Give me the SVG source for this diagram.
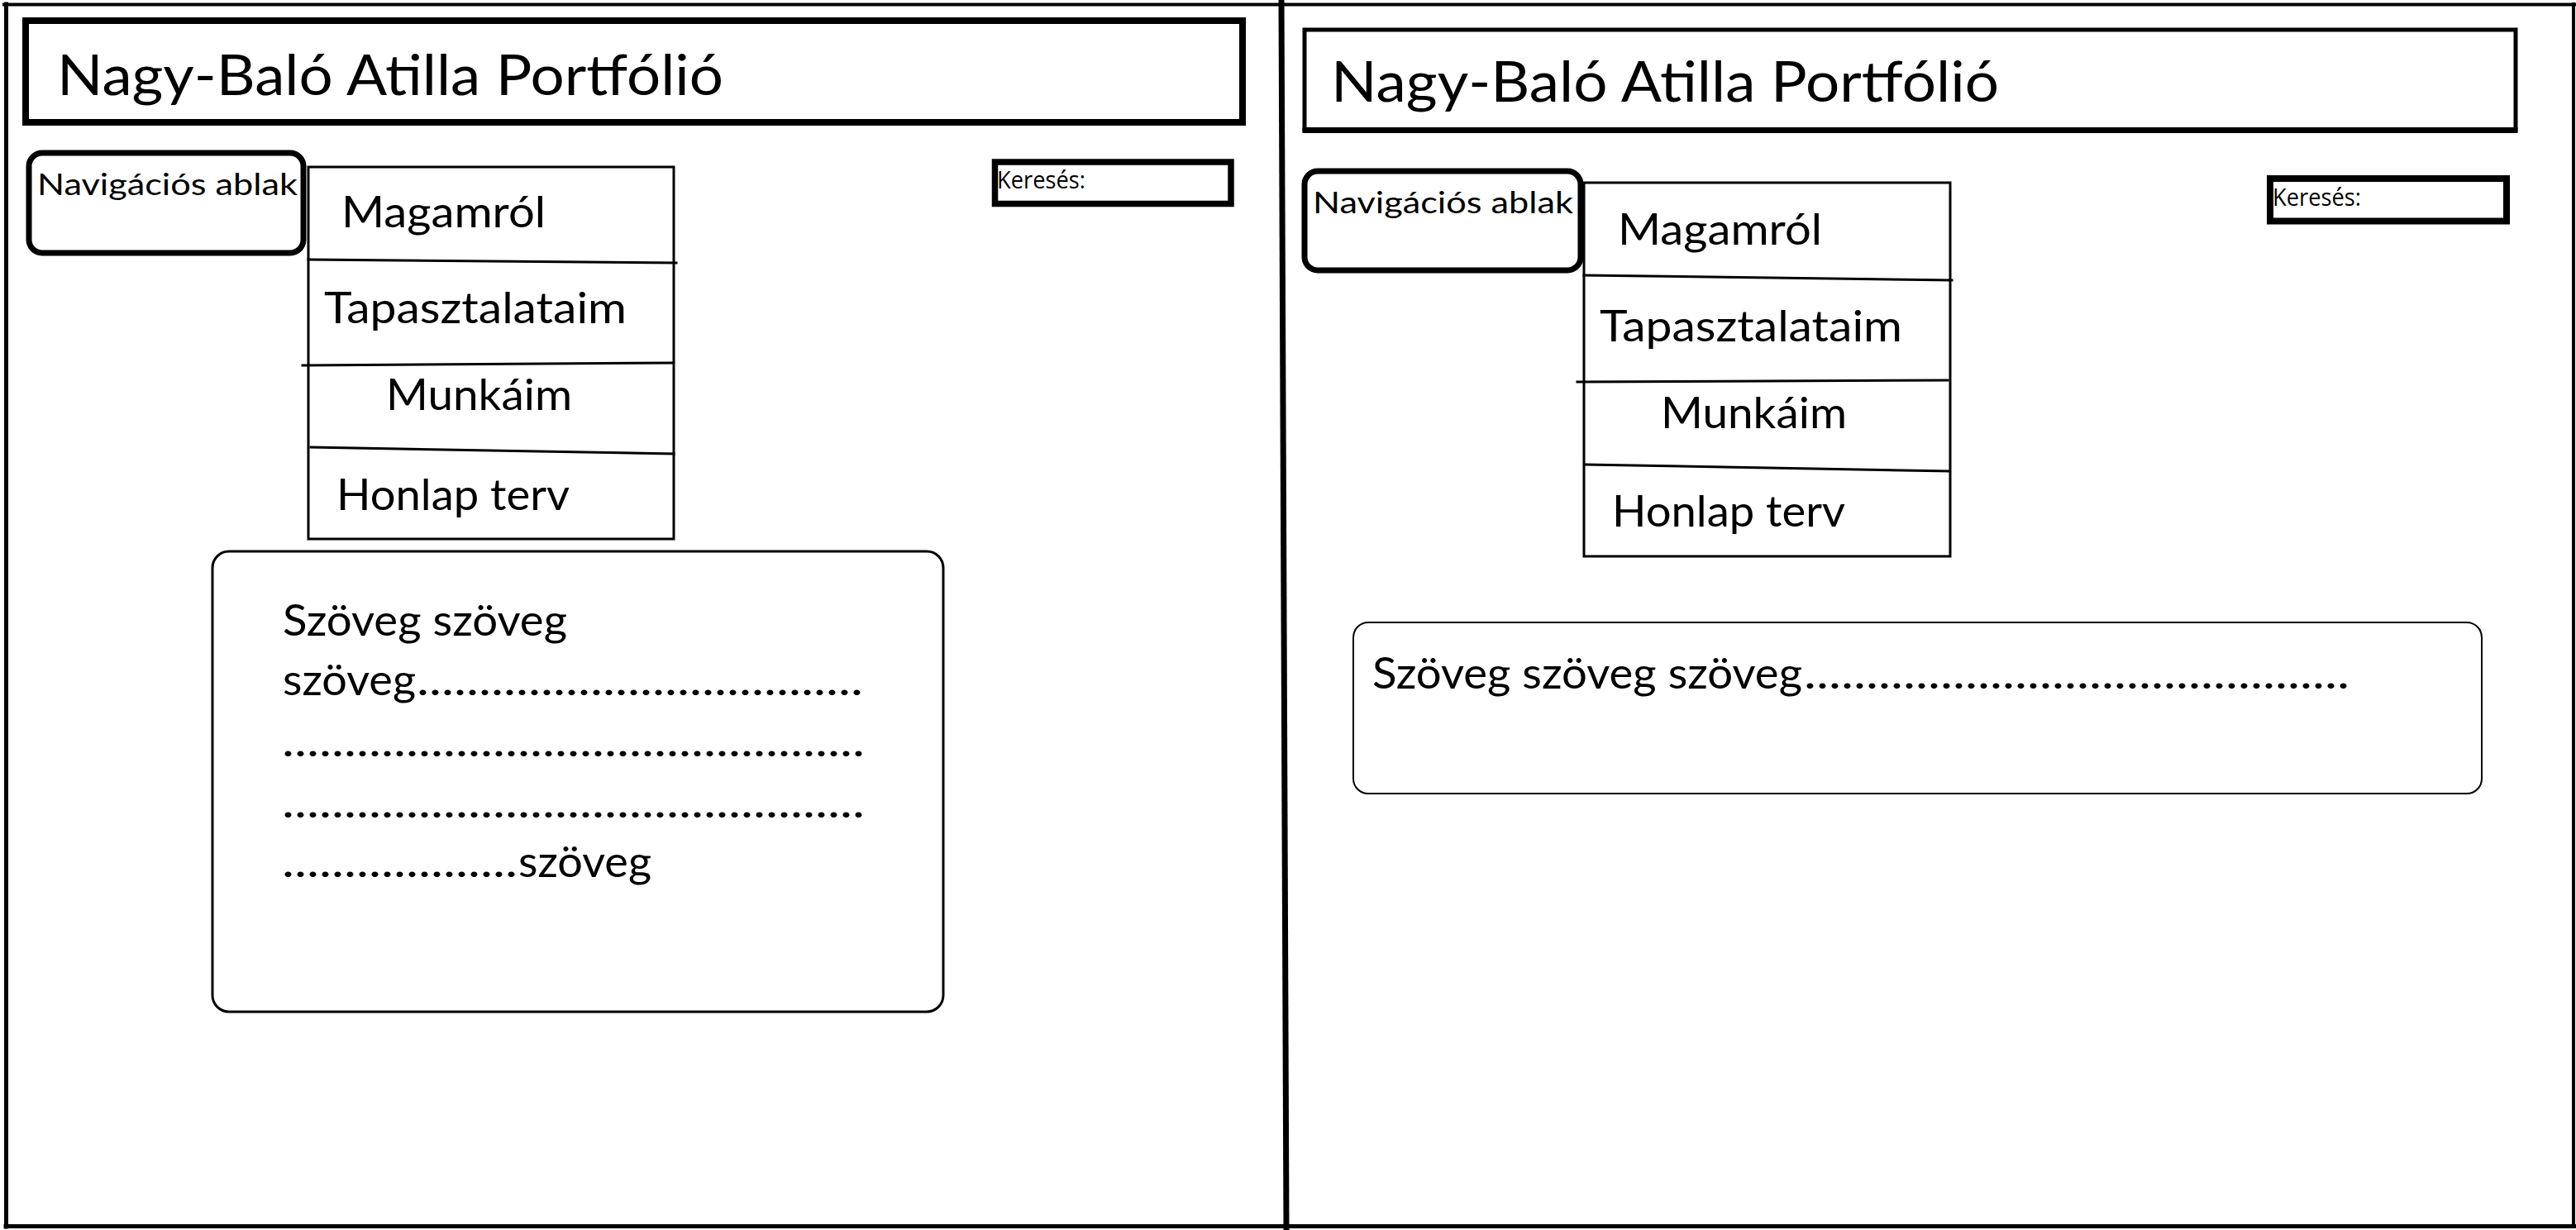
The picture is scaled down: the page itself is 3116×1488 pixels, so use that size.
<svg xmlns="http://www.w3.org/2000/svg" width="3116" height="1488" viewBox="0 0 3116 1488">
<style>
.ln{fill:none;stroke:#000;stroke-linecap:square}
.t{font-family:Lato,"Liberation Sans",sans-serif;fill:#000}
.title{font-size:68px}
.nav{font-size:36px}
.menu{font-size:52px}
.body{font-size:52px}
.ks{font-family:"Open Sans","Noto Sans","Liberation Sans",sans-serif;font-size:30px;fill:#000}
</style>
<rect x="0" y="0" width="3116" height="1488" fill="#fff"/>
<g id="frame">
<line class="ln" x1="5" y1="5.5" x2="3115" y2="5.5" stroke-width="4"/>
<line class="ln" x1="7.5" y1="5" x2="7.5" y2="1484" stroke-width="5"/>
<line class="ln" x1="3113" y1="5" x2="3113" y2="1484" stroke-width="4"/>
<line class="ln" x1="7" y1="1483.5" x2="3114" y2="1483.5" stroke-width="5"/>
<line x1="1550" y1="0" x2="1556" y2="1488" stroke="#000" stroke-width="7"/>
</g>
<g id="left-page">
<g id="left-title">
<rect class="ln" x="31" y="25" width="1472" height="123" stroke-width="8"/>
<text class="t title" x="69" y="115" textLength="806" lengthAdjust="spacingAndGlyphs">Nagy-Baló Atilla Portfólió</text>
</g>
<g id="left-nav">
<rect class="ln" x="35" y="185" width="332" height="121" rx="16" stroke-width="7"/>
<text class="t nav" x="45" y="236" textLength="315" lengthAdjust="spacingAndGlyphs">Navigációs ablak</text>
</g>
<g id="left-search">
<rect class="ln" x="1203.5" y="196" width="285.5" height="50.5" stroke-width="7.5"/>
<text class="ks" x="1206" y="228" textLength="107" lengthAdjust="spacingAndGlyphs">Keresés:</text>
</g>
<g id="left-menu">
<rect class="ln" x="373" y="202" width="442" height="450" stroke-width="3"/>
<line class="ln" x1="373" y1="314" x2="818" y2="318" stroke-width="3"/>
<line class="ln" x1="366" y1="442" x2="813" y2="439" stroke-width="3"/>
<line class="ln" x1="376" y1="541" x2="815" y2="549" stroke-width="3"/>
<text class="t menu" x="413" y="275" textLength="247" lengthAdjust="spacingAndGlyphs">Magamról</text>
<text class="t menu" x="392" y="391" textLength="366" lengthAdjust="spacingAndGlyphs">Tapasztalataim</text>
<text class="t menu" x="467" y="496" textLength="225" lengthAdjust="spacingAndGlyphs">Munkáim</text>
<text class="t menu" x="407" y="617" textLength="282" lengthAdjust="spacingAndGlyphs">Honlap terv</text>
</g>
<g id="left-content">
<rect class="ln" x="257" y="667" width="884" height="557" rx="20" stroke-width="3"/>
<text class="t body" x="342" y="769" textLength="344" lengthAdjust="spacingAndGlyphs">Szöveg szöveg</text>
<text class="t body" x="342" y="841" textLength="161" lengthAdjust="spacingAndGlyphs">szöveg</text>
<text class="t body" x="504" y="841" textLength="540" lengthAdjust="spacingAndGlyphs">....................................</text>
<text class="t body" x="341" y="915" textLength="705" lengthAdjust="spacingAndGlyphs">...............................................</text>
<text class="t body" x="341" y="989" textLength="705" lengthAdjust="spacingAndGlyphs">...............................................</text>
<text class="t body" x="341" y="1061" textLength="285" lengthAdjust="spacingAndGlyphs">...................</text>
<text class="t body" x="627" y="1061" textLength="161" lengthAdjust="spacingAndGlyphs">szöveg</text>
</g>
</g>
<g id="right-page">
<g id="right-title">
<rect class="ln" x="1578" y="36" width="1465" height="121" stroke-width="5"/>
<line x1="1575.5" y1="157.5" x2="3045.5" y2="157.5" stroke="#000" stroke-width="7"/>
<text class="t title" x="1610" y="123" textLength="808" lengthAdjust="spacingAndGlyphs">Nagy-Baló Atilla Portfólió</text>
</g>
<g id="right-nav">
<rect class="ln" x="1578" y="207" width="334" height="120" rx="16" stroke-width="7"/>
<text class="t nav" x="1588" y="258" textLength="315" lengthAdjust="spacingAndGlyphs">Navigációs ablak</text>
</g>
<g id="right-search">
<rect class="ln" x="2746" y="216" width="286" height="51.5" stroke-width="8"/>
<text class="ks" x="2749" y="249" textLength="107" lengthAdjust="spacingAndGlyphs">Keresés:</text>
</g>
<g id="right-menu">
<rect class="ln" x="1916" y="221" width="443" height="452" stroke-width="3"/>
<line class="ln" x1="1916" y1="333" x2="2361" y2="339" stroke-width="3"/>
<line class="ln" x1="1908" y1="462" x2="2356" y2="460" stroke-width="3"/>
<line class="ln" x1="1918" y1="562" x2="2358" y2="570" stroke-width="3"/>
<text class="t menu" x="1957" y="296" textLength="247" lengthAdjust="spacingAndGlyphs">Magamról</text>
<text class="t menu" x="1935" y="413" textLength="366" lengthAdjust="spacingAndGlyphs">Tapasztalataim</text>
<text class="t menu" x="2009" y="518" textLength="225" lengthAdjust="spacingAndGlyphs">Munkáim</text>
<text class="t menu" x="1950" y="637" textLength="282" lengthAdjust="spacingAndGlyphs">Honlap terv</text>
</g>
<g id="right-content">
<rect class="ln" x="1637" y="753" width="1365" height="207" rx="18" stroke-width="2"/>
<text class="t body" x="1660" y="833" textLength="520" lengthAdjust="spacingAndGlyphs">Szöveg szöveg szöveg</text>
<text class="t body" x="2182" y="833" textLength="660" lengthAdjust="spacingAndGlyphs">............................................</text>
</g>
</g>
<g id="connectors"/>
</svg>
